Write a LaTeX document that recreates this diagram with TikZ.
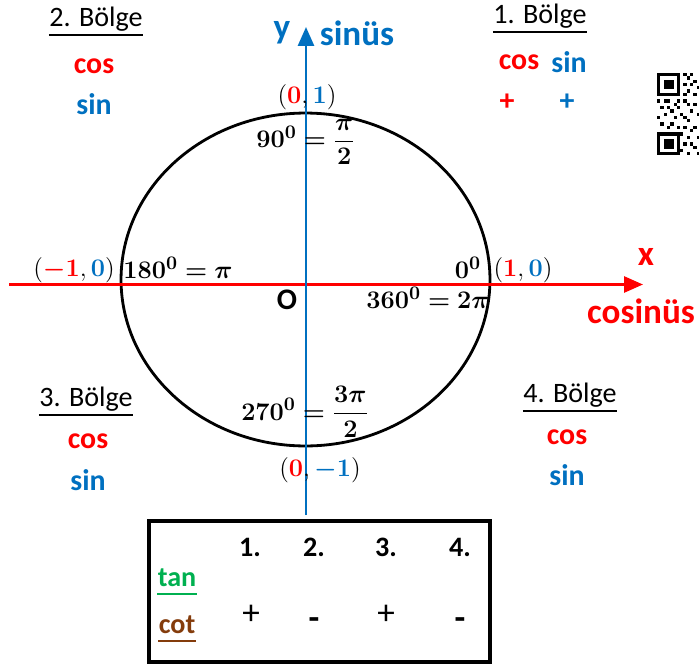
\documentclass[tikz,border=0pt]{standalone}
\usepackage{fontspec}
\setmainfont{Carlito}
\usepackage{amsmath}
\usepackage{bm}
\usetikzlibrary{arrows.meta}
\definecolor{sinblue}{RGB}{0,112,192}
\definecolor{cosred}{RGB}{255,0,0}
\definecolor{tangreen}{RGB}{0,176,80}
\definecolor{cotbrown}{RGB}{132,60,12}
\newcommand{\rd}[1]{{\color{cosred}\bm{#1}}}
\newcommand{\bl}[1]{{\color{sinblue}\bm{#1}}}

\begin{document}
\begin{tikzpicture}[x=0.02cm,y=-0.02cm,
  bolge/.style={font=\fontsize{16}{18}\selectfont, inner sep=0pt},
  trig/.style={font=\fontsize{17}{19}\selectfont\bfseries},
  axislabel/.style={font=\fontsize{20}{22}\selectfont\bfseries},
  anglelabel/.style={font=\fontsize{15}{17}\selectfont},
  cell/.style={font=\fontsize{16}{18}\selectfont\bfseries},
  sign/.style={font=\fontsize{20}{22}\selectfont},
  ulline/.style={line width=1.3pt},
  axisarrow/.style={line width=1.6pt, -{Triangle[length=0.38cm,width=0.32cm]}}]
  \useasboundingbox (0,0) rectangle (699,666);
  % unit circle
  \draw[line width=1.6pt] (305.5,279.5) ellipse [x radius=3.69cm, y radius=3.33cm];
  % axes
  \coordinate (xstart) at (9,284.5);
  \coordinate (xend) at (643,284.5);
  \coordinate (ystart) at (306,515);
  \coordinate (yend) at (306,27);
  \draw[axisarrow, cosred] (xstart) -- (xend);
  \draw[axisarrow, sinblue] (ystart) -- (yend);
  \node[axislabel, sinblue] (ylab) at (282,33) {y};
  \node[axislabel, sinblue] (sinus) at (357,33) {sinüs};
  \node[axislabel, cosred] (xlab) at (646,257) {x};
  \node[axislabel, cosred] (cosinus) at (641,311) {cosinüs};
  \node[font=\fontsize{17}{19}\selectfont\bfseries] (origin) at (287,300) {O};
  % special points
  \node[anglelabel] (p90) at (307,97) {$(\rd{0},\bl{1})$};
  \node[anglelabel] (a90) at (306,142) {$\bm{90^0}\bm{=}\dfrac{\bm{\pi}}{\bm{2}}$};
  \node[anglelabel] (p180) at (74,270) {$(\rd{-1},\bl{0})$};
  \node[anglelabel] (a180) at (178,268) {$\bm{180^0}\bm{=}\bm{\pi}$};
  \node[anglelabel] (a0) at (468,268) {$\bm{0^0}$};
  \node[anglelabel] (p0) at (523,270) {$(\rd{1},\bl{0})$};
  \node[anglelabel] (a360) at (428,298) {$\bm{360^0}\bm{=}\bm{2\pi}$};
  \node[anglelabel] (a270) at (305,412) {$\bm{270^0}\bm{=}\dfrac{\bm{3\pi}}{\bm{2}}$};
  \node[anglelabel] (p270) at (320,470) {$(\rd{0},\bl{-1})$};
  % quadrants
  \node[bolge] (q2) at (96,19) {2. Bölge};
  \node[trig, cosred] (q2cos) at (94,66) {cos};
  \node[trig, sinblue] (q2sin) at (94,104) {sin};
  \node[bolge] (q1) at (540,16) {1. Bölge};
  \node[trig, cosred] (q1cos) at (519,62) {cos};
  \node[trig, sinblue] (q1sin) at (569,62) {sin};
  \node[trig, cosred] (q1cp) at (507,102) {+};
  \node[trig, sinblue] (q1sp) at (567,102) {+};
  \node[bolge] (q3) at (86,399) {3. Bölge};
  \node[trig, cosred] (q3cos) at (88,441) {cos};
  \node[trig, sinblue] (q3sin) at (88,480) {sin};
  \node[bolge] (q4) at (570,395) {4. Bölge};
  \node[trig, cosred] (q4cos) at (567,437) {cos};
  \node[trig, sinblue] (q4sin) at (567,475) {sin};
  \foreach \q in {q1,q2,q3,q4}
    \draw[ulline] ([yshift=-5pt]\q.base west) -- ([yshift=-5pt]\q.base east);
  % tan / cot table
  \draw[line width=2.3pt] (149,521) rectangle (490,662);
  \node[cell] (h1) at (250,547) {1.};
  \node[cell] (h2) at (314,547) {2.};
  \node[cell] (h3) at (386,547) {3.};
  \node[cell] (h4) at (460,547) {4.};
  \node[cell, tangreen, inner sep=0pt] (tan) at (177,578) {tan};
  \node[cell, cotbrown, inner sep=0pt] (cot) at (177,625) {cot};
  \draw[ulline, tangreen] ([yshift=-4pt]tan.base west) -- ([yshift=-4pt]tan.base east);
  \draw[ulline, cotbrown] ([yshift=-4pt]cot.base west) -- ([yshift=-4pt]cot.base east);
  \node[sign] (s1) at (251,615) {+};
  \node[sign, font=\fontsize{20}{22}\selectfont\bfseries] (s2) at (314,624) {-};
  \node[sign] (s3) at (386,615) {+};
  \node[sign, font=\fontsize{20}{22}\selectfont\bfseries] (s4) at (460,624) {-};
  % QR code
  \begin{scope}[shift={(657,73)}, x=0.066cm, y=-0.066cm]
    \foreach \r in {0,18} {
      \draw[line width=0.066cm] (0.5,\r+0.5) rectangle (6.5,\r+6.5);
      \fill (2,\r+2) rectangle (5,\r+5);
    }
    \foreach \c/\r in {8/0,9/1,10/0,11/2,8/3,10/3,12/4,9/5,8/6,11/6,
                       0/8,2/8,3/8,5/9,6/8,1/10,3/10,4/11,6/10,8/8,
                       9/9,11/9,10/11,7/12,0/13,2/12,5/13,8/13,12/12,9/14,
                       1/15,3/16,4/15,6/16,8/16,11/16,10/17,7/18,9/19,12/19,
                       8/21,10/21,11/22,7/23,9/24,12/24}
      \fill (\c,\r) rectangle ++(1,1);
  \end{scope}
\end{tikzpicture}
\end{document}
